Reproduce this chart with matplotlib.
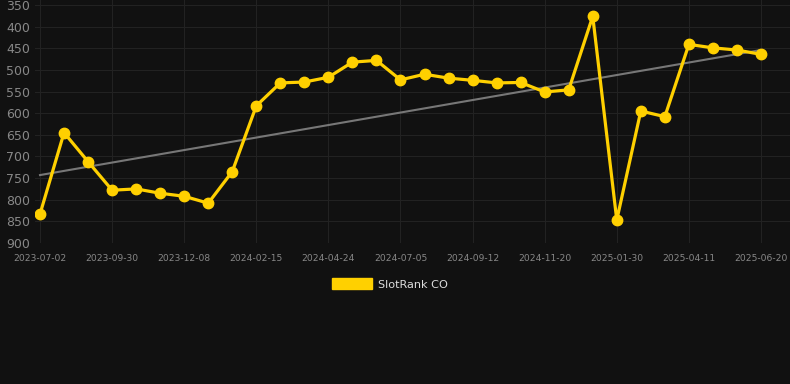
import matplotlib.pyplot as plt
import numpy as np

# SlotRank CO rank, one point per snapshot (lower rank = better, axis inverted)
ranks = [833, 645, 712, 778, 775, 785, 792, 808, 735, 583,
         530, 528, 517, 482, 478, 523, 510, 519, 524, 530,
         529, 551, 546, 376, 847, 595, 608, 441, 449, 454, 464]
tick_labels = ['2023-07-02', '2023-09-30', '2023-12-08', '2024-02-15',
               '2024-04-24', '2024-07-05', '2024-09-12', '2024-11-20',
               '2025-01-30', '2025-04-11', '2025-06-20']
trend_ends = [743, 454]

bg = '#111111'
yellow = '#FFD000'

fig = plt.figure(figsize=(7.9, 3.84), dpi=100, facecolor=bg)
ax = fig.add_axes([35 / 790, 141 / 384, 755 / 790, 243 / 384], facecolor=bg)

x = np.arange(len(ranks))
ax.plot([x[0], x[-1]], trend_ends, color='#777777', lw=1.5, zorder=2)
ax.plot(x, ranks, color=yellow, lw=2.3, marker='o', ms=7.5, zorder=3,
        label='SlotRank CO')

ax.set_xlim(-5 / 24, 30 + 29 / 24)
ax.set_ylim(900, 338.4)
ax.set_yticks(range(350, 901, 50))
ax.set_xticks(x[::3])
ax.set_xticklabels(tick_labels)

ax.grid(True, color='#222222', lw=0.8)
ax.set_axisbelow(True)
for s in ax.spines.values():
    s.set_visible(False)
ax.tick_params(axis='y', length=0, pad=3.5, labelsize=9, labelcolor='#888888')
ax.tick_params(axis='x', length=0, pad=8, labelsize=6.6, labelcolor='#888888')

fig.legend(handles=[plt.Rectangle((0, 0), 1, 1, color=yellow)],
           labels=['SlotRank CO'], loc='center', bbox_to_anchor=(390 / 790, 1 - 284 / 384),
           frameon=False, handlelength=3.55, handleheight=1.07, handletextpad=0.53,
           fontsize=8.1, labelcolor='#dddddd')

fig.savefig('out.png', dpi=100, facecolor=bg)
